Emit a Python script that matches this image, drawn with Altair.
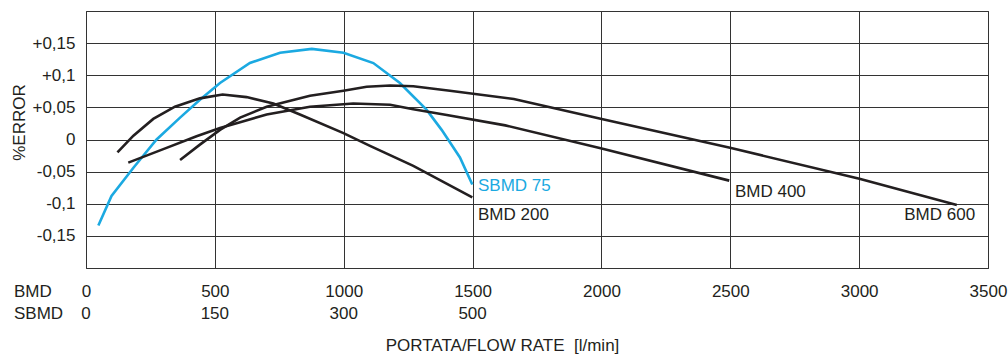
import altair as alt
import pandas as pd

# ---- data ----
sbmd75_x = [48, 99, 184, 274, 365, 442, 520, 636, 753, 876, 999, 1115, 1218, 1322, 1380, 1451, 1499]
sbmd75_y = [-0.134, -0.088, -0.044, 0.0, 0.034, 0.062, 0.088, 0.119, 0.135, 0.141, 0.135, 0.119, 0.088, 0.046, 0.015, -0.028, -0.070]

bmd200_x = [122, 184, 261, 345, 442, 530, 623, 727, 830, 999, 1102, 1270, 1499]
bmd200_y = [-0.020, 0.006, 0.032, 0.051, 0.064, 0.070, 0.066, 0.056, 0.039, 0.010, -0.010, -0.041, -0.090]

bmd400_x = [164, 300, 429, 520, 598, 701, 869, 1037, 1180, 1270, 1400, 1627, 2001, 2496]
bmd400_y = [-0.036, -0.015, 0.005, 0.018, 0.027, 0.039, 0.051, 0.056, 0.054, 0.047, 0.038, 0.022, -0.014, -0.064]

bmd600_x = [365, 442, 520, 598, 701, 869, 999, 1089, 1180, 1270, 1412, 1660, 2001, 2499, 3001, 3379]
bmd600_y = [-0.032, -0.008, 0.015, 0.034, 0.051, 0.068, 0.076, 0.082, 0.084, 0.083, 0.076, 0.063, 0.032, -0.013, -0.061, -0.102]

series_names = ["SBMD 75", "BMD 200", "BMD 400", "BMD 600"]
series_colors = ["#1ba9e1", "#231f20", "#231f20", "#231f20"]

# curve end labels (data coordinates)
lab_text = ["SBMD 75", "BMD 200", "BMD 400", "BMD 600"]
lab_x = [1521, 1521, 2518, 3450]
lab_y = [-0.073, -0.118, -0.082, -0.118]
lab_align = ["left", "left", "left", "right"]

# x tick labels
bmd_ticks = [0, 500, 1000, 1500, 2000, 2500, 3000, 3500]
sbmd_pos = [0, 500, 1000, 1500]
sbmd_labels = ["0", "150", "300", "500"]

# y ticks / labels
y_grid = [-0.2, -0.15, -0.1, -0.05, 0, 0.05, 0.1, 0.15, 0.2]
y_labels = ["", "-0,15", "-0,1", "-0,05", "0", "+0,05", "+0,1", "+0,15", ""]

FONT = "Liberation Sans"
FS = 17
INK = "#231f20"
GRID = "#333333"

rows = []
for name, xs, ys in [("SBMD 75", sbmd75_x, sbmd75_y), ("BMD 200", bmd200_x, bmd200_y),
                     ("BMD 400", bmd400_x, bmd400_y), ("BMD 600", bmd600_x, bmd600_y)]:
    for x, y in zip(xs, ys):
        rows.append({"series": name, "x": x, "y": y})
df = pd.DataFrame(rows)

labels_df = pd.DataFrame({"text": lab_text, "x": lab_x, "y": lab_y, "align": lab_align,
                          "series": series_names})

# label lookup expression for the y axis
ylab_expr = " : ".join(
    f"abs(datum.value - ({v})) < 0.001 ? '{t}'" for v, t in zip(y_grid, y_labels)
) + " : ''"

xscale = alt.Scale(domain=[0, 3500], nice=False, zero=False)
yscale = alt.Scale(domain=[-0.2, 0.2], nice=False, zero=False)
cscale = alt.Scale(domain=series_names, range=series_colors)

xaxis = alt.Axis(values=bmd_ticks, format="d", grid=True, gridColor=GRID, gridWidth=1,
                 gridOpacity=1, ticks=False, tickSize=0, domain=False,
                 labelFont=FONT, labelFontSize=FS, labelColor=INK,
                 labelPadding=23, labelBaseline="middle", labelFlush=False,
                 labelOverlap=False,
                 title="PORTATA/FLOW RATE\u00a0 [l/min]", titleFont=FONT,
                 titleFontSize=FS, titleFontWeight="normal", titleColor=INK,
                 titleX=416, titleY=77, titleBaseline="middle",
                 titleAlign="center")
yaxis = alt.Axis(values=y_grid, grid=True, gridColor=GRID, gridWidth=1,
                 gridOpacity=1, ticks=False, tickSize=0, domain=False,
                 labelFont=FONT, labelFontSize=FS, labelColor=INK,
                 labelPadding=11, labelFlush=False, labelOverlap=False,
                 labelBaseline="middle",
                 labelExpr=ylab_expr,
                 title="%ERROR", titleFont=FONT, titleFontSize=FS,
                 titleFontWeight="normal", titleColor=INK,
                 titleX=-67, titleY=111, titleBaseline="middle", titleAlign="center",
                 titleAngle=270)

lines = alt.Chart(df).mark_line(strokeWidth=2.6, strokeCap="butt").encode(
    x=alt.X("x:Q", scale=xscale, axis=xaxis),
    y=alt.Y("y:Q", scale=yscale, axis=yaxis),
    color=alt.Color("series:N", scale=cscale, legend=None),
    detail="series:N",
)

curve_labels_left = alt.Chart(labels_df[labels_df["align"] == "left"]).mark_text(
    align="left", baseline="middle", font=FONT, fontSize=FS).encode(
    x=alt.X("x:Q", scale=xscale, axis=xaxis), y=alt.Y("y:Q", scale=yscale, axis=yaxis),
    text="text:N",
    color=alt.Color("series:N", scale=cscale, legend=None))

curve_labels_right = alt.Chart(labels_df[labels_df["align"] == "right"]).mark_text(
    align="right", baseline="middle", font=FONT, fontSize=FS).encode(
    x=alt.X("x:Q", scale=xscale, axis=xaxis), y=alt.Y("y:Q", scale=yscale, axis=yaxis),
    text="text:N",
    color=alt.Color("series:N", scale=cscale, legend=None))

sbmd_df = pd.DataFrame({"x": sbmd_pos, "label": sbmd_labels})
sbmd_row = alt.Chart(sbmd_df).mark_text(
    align="center", baseline="middle", font=FONT, fontSize=FS, color=INK).encode(
    x=alt.X("x:Q", scale=xscale, axis=xaxis), y=alt.value(303), text="label:N")

heads_bmd = alt.Chart(pd.DataFrame({"label": ["BMD"]})).mark_text(
    align="left", baseline="middle", font=FONT, fontSize=FS, color=INK).encode(
    x=alt.value(-72), y=alt.value(281), text="label:N")
heads_sbmd = alt.Chart(pd.DataFrame({"label": ["SBMD"]})).mark_text(
    align="left", baseline="middle", font=FONT, fontSize=FS, color=INK).encode(
    x=alt.value(-72), y=alt.value(303), text="label:N")

chart = alt.layer(lines, curve_labels_left, curve_labels_right, sbmd_row,
                  heads_bmd, heads_sbmd).properties(
    width=902, height=257,
    autosize=alt.AutoSizeParams(type="none"),
    padding={"left": 86, "top": 11, "right": 20, "bottom": 86},
    background="white",
).configure_view(stroke=GRID, strokeWidth=1)

chart.save("out.html", embed_options={"renderer": "svg", "actions": False})
